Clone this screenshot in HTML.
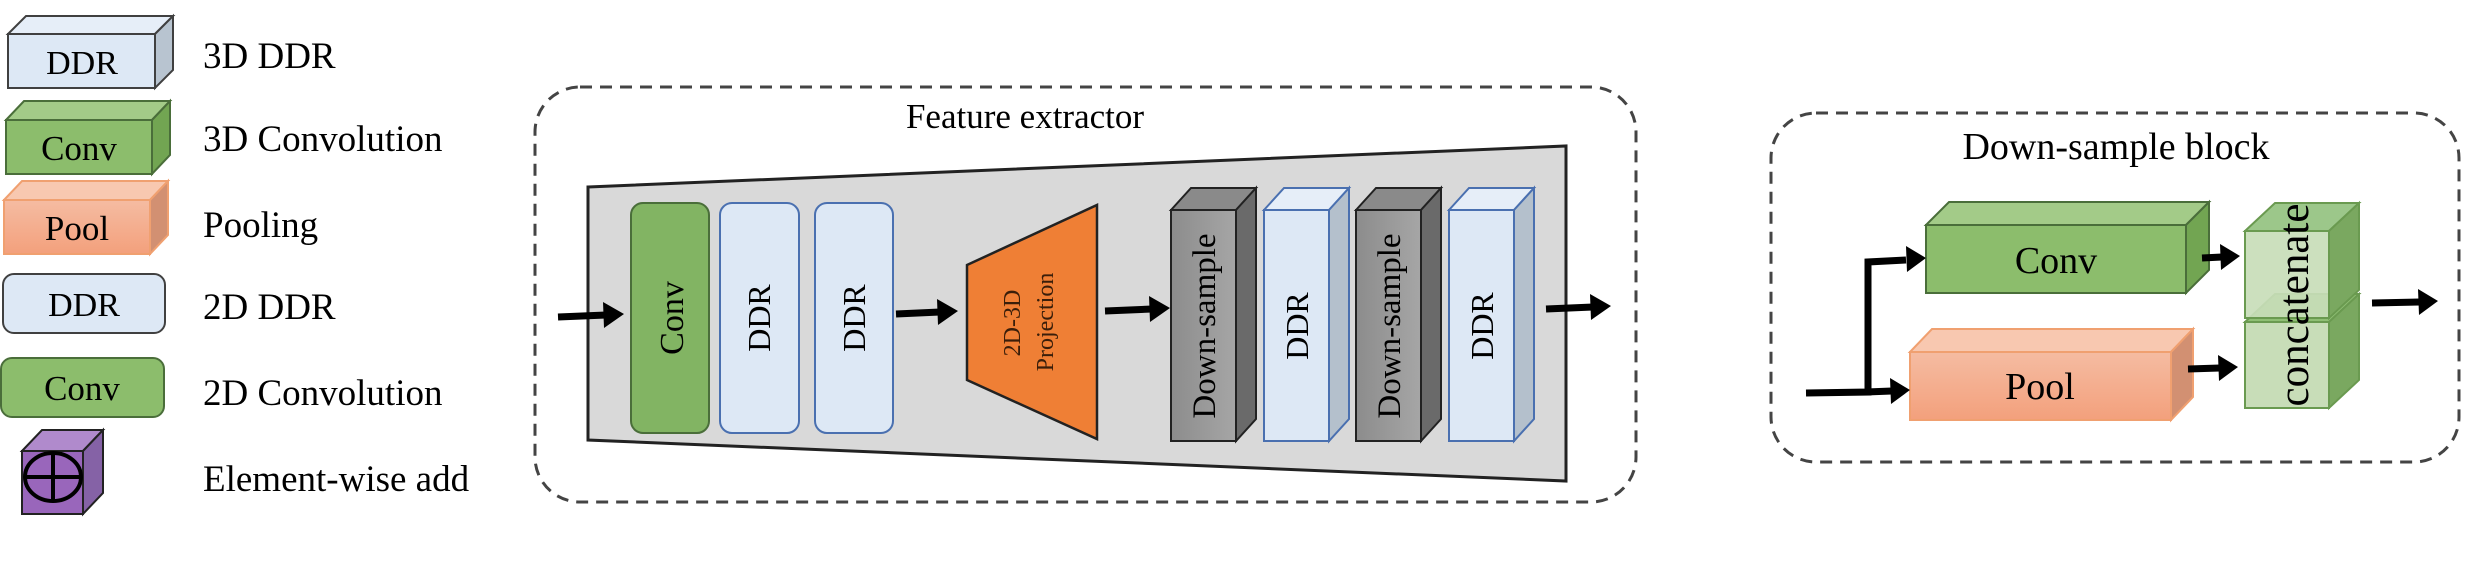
<!DOCTYPE html>
<html><head><meta charset="utf-8"><style>
html,body{margin:0;padding:0;background:#fff;}
svg{display:block;}
text{font-family:"Liberation Serif",serif;fill:#000;}
</style></head><body>
<svg width="2478" height="581" viewBox="0 0 2478 581" xmlns="http://www.w3.org/2000/svg">
<defs>
<linearGradient id="pool" x1="0" y1="0" x2="0" y2="1"><stop offset="0" stop-color="#f5bca2"/><stop offset="1" stop-color="#f3a07c"/></linearGradient>
<linearGradient id="ds" x1="0" y1="0" x2="1" y2="0"><stop offset="0" stop-color="#8c8c8c"/><stop offset="1" stop-color="#a6a6a6"/></linearGradient>
</defs>

<!-- Legend -->
<g stroke="#404040" stroke-width="2">
<polygon points="8,34 26,16 173,16 155,34" fill="#e6eef8"/>
<polygon points="155,34 173,16 173,70 155,88" fill="#b8c4d0"/>
<rect x="8" y="34" width="147" height="54" fill="#dde8f5"/>
</g>
<text x="82" y="74" font-size="34" text-anchor="middle">DDR</text>
<text x="203" y="68" font-size="37">3D DDR</text>

<g stroke="#4a6e3a" stroke-width="2">
<polygon points="6,120 24,101 170,101 152,120" fill="#a3cb88"/>
<polygon points="152,120 170,101 170,155 152,174" fill="#72a552"/>
<rect x="6" y="120" width="146" height="54" fill="#8cbd6c"/>
</g>
<text x="79" y="160" font-size="35" text-anchor="middle">Conv</text>
<text x="203" y="151" font-size="37">3D Convolution</text>

<g stroke="#f0a070" stroke-width="2">
<polygon points="4,200 22,181 168,181 150,200" fill="#f8c8b0"/>
<polygon points="150,200 168,181 168,235 150,254" fill="#d29072"/>
<rect x="4" y="200" width="146" height="54" fill="url(#pool)"/>
</g>
<text x="77" y="240" font-size="35" text-anchor="middle">Pool</text>
<text x="203" y="237" font-size="37">Pooling</text>

<rect x="3" y="274" width="162" height="59" rx="11" fill="#dde8f5" stroke="#404040" stroke-width="2"/>
<text x="84" y="316" font-size="34" text-anchor="middle">DDR</text>
<text x="203" y="319" font-size="37">2D DDR</text>

<rect x="1" y="358" width="163" height="59" rx="11" fill="#8cbd6c" stroke="#4a6e3a" stroke-width="2"/>
<text x="82" y="400" font-size="35" text-anchor="middle">Conv</text>
<text x="203" y="405" font-size="37">2D Convolution</text>

<g stroke="#222" stroke-width="2">
<polygon points="22,451 42,430 103,430 83,451" fill="#b08acc"/>
<polygon points="83,451 103,430 103,493 83,514" fill="#8562a6"/>
<rect x="22" y="451" width="61" height="63" fill="#9966bb"/>
</g>
<ellipse cx="53" cy="477" rx="28" ry="24" fill="none" stroke="#000" stroke-width="4"/>
<line x1="25" y1="477" x2="81" y2="477" stroke="#000" stroke-width="4"/>
<line x1="53" y1="453" x2="53" y2="501" stroke="#000" stroke-width="4"/>
<text x="203" y="491" font-size="37">Element-wise add</text>

<!-- Feature extractor -->
<rect x="535" y="87" width="1101" height="415" rx="45" fill="none" stroke="#444" stroke-width="3" stroke-dasharray="12,8"/>
<text x="1025" y="128" font-size="35" text-anchor="middle">Feature extractor</text>
<polygon points="588,187 1566,146 1566,481 588,440" fill="#d9d9d9" stroke="#222" stroke-width="3"/>

<rect x="631" y="203" width="78" height="230" rx="12" fill="#82b463" stroke="#4a6e3a" stroke-width="2"/>
<text transform="translate(683,318) rotate(-90)" font-size="34" text-anchor="middle">Conv</text>
<rect x="720" y="203" width="79" height="230" rx="12" fill="#dde8f5" stroke="#4a70b0" stroke-width="2"/>
<text transform="translate(770,318) rotate(-90)" font-size="32" text-anchor="middle">DDR</text>
<rect x="815" y="203" width="78" height="230" rx="12" fill="#dde8f5" stroke="#4a70b0" stroke-width="2"/>
<text transform="translate(865,318) rotate(-90)" font-size="32" text-anchor="middle">DDR</text>

<polygon points="967,265 1097,205 1097,439 967,380" fill="#ef7f35" stroke="#222" stroke-width="2.5"/>
<text transform="translate(1020,323) rotate(-90)" font-size="24" text-anchor="middle" style="fill:#3a1e0a">2D-3D</text>
<text transform="translate(1053,322) rotate(-90)" font-size="24" text-anchor="middle" style="fill:#3a1e0a">Projection</text>

<g stroke="#222" stroke-width="2">
<polygon points="1171,210 1191,188 1256,188 1236,210" fill="#8a8a8a"/>
<polygon points="1236,210 1256,188 1256,419 1236,441" fill="#6a6a6a"/>
<rect x="1171" y="210" width="65" height="231" fill="url(#ds)"/>
</g>
<text transform="translate(1215,326) rotate(-90)" font-size="33" text-anchor="middle">Down-sample</text>
<g stroke="#4a70b0" stroke-width="2">
<polygon points="1264,210 1284,188 1349,188 1329,210" fill="#e6eef8"/>
<polygon points="1329,210 1349,188 1349,419 1329,441" fill="#b4c0cc"/>
<rect x="1264" y="210" width="65" height="231" fill="#dde8f5"/>
</g>
<text transform="translate(1308,326) rotate(-90)" font-size="32" text-anchor="middle">DDR</text>
<g stroke="#222" stroke-width="2">
<polygon points="1356,210 1376,188 1441,188 1421,210" fill="#8a8a8a"/>
<polygon points="1421,210 1441,188 1441,419 1421,441" fill="#6a6a6a"/>
<rect x="1356" y="210" width="65" height="231" fill="url(#ds)"/>
</g>
<text transform="translate(1400,326) rotate(-90)" font-size="33" text-anchor="middle">Down-sample</text>
<g stroke="#4a70b0" stroke-width="2">
<polygon points="1449,210 1469,188 1534,188 1514,210" fill="#e6eef8"/>
<polygon points="1514,210 1534,188 1534,419 1514,441" fill="#b4c0cc"/>
<rect x="1449" y="210" width="65" height="231" fill="#dde8f5"/>
</g>
<text transform="translate(1493,326) rotate(-90)" font-size="32" text-anchor="middle">DDR</text>

<!-- arrows feature extractor -->
<g stroke="#000" stroke-width="7" fill="#000">
<line x1="558" y1="317" x2="606" y2="315"/><polygon points="624,314 603,302 604,328" stroke="none"/>
<line x1="896" y1="314" x2="940" y2="312"/><polygon points="958,311 937,299 938,325" stroke="none"/>
<line x1="1105" y1="311" x2="1152" y2="309"/><polygon points="1170,308 1149,296 1150,322" stroke="none"/>
<line x1="1546" y1="309" x2="1593" y2="307"/><polygon points="1611,306 1590,294 1591,320" stroke="none"/>
</g>

<!-- Down-sample block -->
<rect x="1771" y="113" width="688" height="349" rx="45" fill="none" stroke="#444" stroke-width="3" stroke-dasharray="12,8"/>
<text x="2116" y="159" font-size="38" text-anchor="middle">Down-sample block</text>

<g stroke="#4a6e3a" stroke-width="2">
<polygon points="1926,225 1949,202 2209,202 2186,225" fill="#a3cb88"/>
<polygon points="2186,225 2209,202 2209,270 2186,293" fill="#72a552"/>
<rect x="1926" y="225" width="260" height="68" fill="#8cbd6c"/>
</g>
<text x="2056" y="273" font-size="38" text-anchor="middle">Conv</text>
<g stroke="#f0a070" stroke-width="2">
<polygon points="1910,352 1932,329 2193,329 2171,352" fill="#f8c8b0"/>
<polygon points="2171,352 2193,329 2193,397 2171,420" fill="#d29072"/>
<rect x="1910" y="352" width="261" height="68" fill="url(#pool)"/>
</g>
<text x="2040" y="399" font-size="38" text-anchor="middle">Pool</text>

<g stroke="#6a9a50" stroke-width="2">
<polygon points="2245,322 2275,294 2359,294 2329,322" fill="#8fbf74"/>
<polygon points="2329,322 2359,294 2359,380 2329,408" fill="#7aa860"/>
<rect x="2245" y="322" width="84" height="86" fill="#c8ddb8"/>
<polygon points="2245,231 2275,203 2359,203 2329,231" fill="#9cc78a"/>
<polygon points="2329,231 2359,203 2359,290 2329,318" fill="#7aa860"/>
<rect x="2245" y="231" width="84" height="87" fill="#c8ddb8" fill-opacity="0.92"/>
</g>
<text transform="translate(2308,305) rotate(-90)" font-size="43" text-anchor="middle">concatenate</text>

<g stroke="#000" stroke-width="7" fill="#000">
<polyline points="1806,393 1868,392 1868,262 1906,260" fill="none"/>
<polygon points="1926,258 1906,246 1907,272" stroke="none"/>
<line x1="1866" y1="392" x2="1892" y2="391"/><polygon points="1910,390 1890,378 1891,404" stroke="none"/>
<line x1="2202" y1="258" x2="2222" y2="257"/><polygon points="2240,256 2220,244 2221,270" stroke="none"/>
<line x1="2188" y1="369" x2="2220" y2="368"/><polygon points="2238,367 2218,355 2219,381" stroke="none"/>
<line x1="2372" y1="303" x2="2420" y2="302"/><polygon points="2438,301 2418,289 2419,315" stroke="none"/>
</g>
</svg>
</body></html>
